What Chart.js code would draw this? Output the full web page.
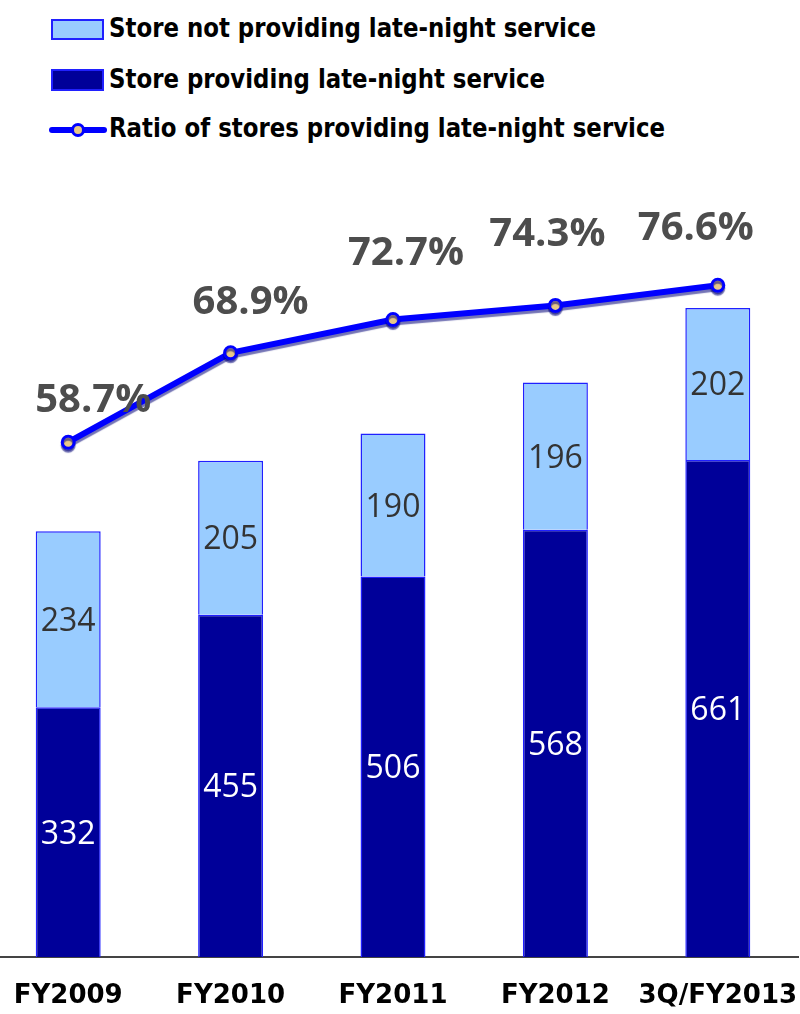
<!DOCTYPE html>
<html>
<head>
<meta charset="utf-8">
<script src="https://cdn.jsdelivr.net/npm/chart.js@4.4.0/dist/chart.umd.min.js"></script>
<style>
  html, body { margin: 0; padding: 0; background: #fff; }
  body { width: 800px; height: 1014px; position: relative; overflow: hidden; }
  #chart { position: absolute; left: -13px; top: 0; }
  .swatch { position: absolute; box-sizing: border-box; }
  .key-text {
    position: absolute; left: 109px; white-space: nowrap; line-height: 1;
    font: bold 27px "DejaVu Sans", sans-serif; color: #000; transform-origin: 0 50%;
  }
</style>
</head>
<body>
<div id="key"></div>
<canvas id="chart" width="812" height="1014"></canvas>
<script>
// Store counts per fiscal period
const categories = ['FY2009', 'FY2010', 'FY2011', 'FY2012', '3Q/FY2013'];
const lateNightStores = [332, 455, 506, 568, 661];
const otherStores = [234, 205, 190, 196, 202];
const lateNightRatio = [58.7, 68.9, 72.7, 74.3, 76.6];
const seriesNames = [
  'Store not providing late-night service',
  'Store providing late-night service',
  'Ratio of stores providing late-night service'
];

const COLORS = {
  light: '#99ccff',
  dark: '#000099',
  edge: '#2020ff',
  line: '#0000ff',
  dot: '#e8c887'
};

// ---- legend (HTML, stacked rows) ----
const key = document.getElementById('key');
function addText(txt, top) {
  const s = document.createElement('span');
  s.className = 'key-text';
  s.textContent = txt;
  s.style.top = top + 'px';
  key.appendChild(s);
  return s;
}
function addBox(top, h, bg) {
  const b = document.createElement('div');
  b.className = 'swatch';
  Object.assign(b.style, { left: '51px', top: top + 'px', width: '53px', height: h + 'px',
    background: bg, border: '2px solid ' + COLORS.edge });
  key.appendChild(b);
}
addBox(19, 21, COLORS.light);
addBox(69, 22, COLORS.dark);
// line sample with marker
const ls = document.createElement('div');
Object.assign(ls.style, { position: 'absolute', left: '49px', top: '127px', width: '58px', height: '6px',
  background: COLORS.line, borderRadius: '3px' });
key.appendChild(ls);
const lm = document.createElement('div');
Object.assign(lm.style, { position: 'absolute', left: '71px', top: '123px', width: '14px', height: '14px',
  boxSizing: 'border-box', borderRadius: '50%', background: COLORS.dot, border: '3px solid ' + COLORS.line });
key.appendChild(lm);

const t1 = addText(seriesNames[0], 12);
const t2 = addText(seriesNames[1], 63);
const t3 = addText(seriesNames[2], 112);
// condense the legend text horizontally
const squeeze = 487 / t1.getBoundingClientRect().width;
[t1, t2, t3].forEach(t => { t.style.transform = 'scaleX(' + squeeze + ')'; });

// ---- plugins ----
const lineShadow = {
  id: 'lineShadow',
  beforeDatasetDraw(chart, args) {
    if (args.meta.type !== 'line') return;
    const ctx = chart.ctx;
    ctx.save();
    ctx.shadowColor = 'rgba(0, 0, 120, 0.55)';
    ctx.shadowOffsetY = 3;
    ctx.shadowBlur = 1;
  },
  afterDatasetDraw(chart, args) {
    if (args.meta.type !== 'line') return;
    chart.ctx.restore();
  }
};

const valueLabels = {
  id: 'valueLabels',
  afterDatasetsDraw(chart, args, opts) {
    const ctx = chart.ctx;
    ctx.save();
    ctx.textAlign = 'center';
    ctx.textBaseline = 'alphabetic';
    chart.data.datasets.forEach((ds, i) => {
      const meta = chart.getDatasetMeta(i);
      meta.data.forEach((el, j) => {
        const v = ds.data[j];
        if (meta.type === 'bar') {
          const p = el.getProps(['x', 'y', 'base'], true);
          ctx.font = opts.barFont;
          ctx.fillStyle = ds.valueColor;
          ctx.fillText(String(v), p.x, (p.y + p.base) / 2 + opts.barCap / 2);
        } else {
          const s = opts.ratioShift[j];
          ctx.font = opts.ratioFont;
          ctx.fillStyle = opts.ratioColor;
          ctx.fillText(v.toFixed(1) + '%', el.x + s[0], el.y + s[1] + opts.ratioCap / 2);
        }
      });
    });
    ctx.restore();
  }
};

new Chart(document.getElementById('chart'), {
  data: {
    labels: categories,
    datasets: [
      {
        type: 'line', label: seriesNames[2], data: lateNightRatio, yAxisID: 'yRatio',
        borderColor: COLORS.line, borderWidth: 6, tension: 0,
        pointRadius: 6, pointBorderWidth: 3, pointBackgroundColor: COLORS.dot, pointBorderColor: COLORS.line,
        order: 0
      },
      {
        type: 'bar', label: seriesNames[1], data: lateNightStores, yAxisID: 'y', stack: 'stores',
        backgroundColor: COLORS.dark, borderColor: COLORS.edge, borderWidth: 1.5,
        valueColor: '#ffffff', order: 1
      },
      {
        type: 'bar', label: seriesNames[0], data: otherStores, yAxisID: 'y', stack: 'stores',
        backgroundColor: COLORS.light, borderColor: COLORS.edge, borderWidth: 1.5,
        valueColor: '#333333', order: 1
      }
    ]
  },
  options: {
    responsive: false,
    devicePixelRatio: 1,
    animation: false,
    layout: { autoPadding: false, padding: { top: 205, left: 0, right: 0, bottom: 2 } },
    datasets: { bar: { barPercentage: 0.8, categoryPercentage: 0.5 } },
    plugins: {
      legend: { display: false },
      tooltip: { enabled: false },
      valueLabels: {
        barFont: '32px "Open Sans"',
        barCap: 23,
        ratioFont: 'bold 40px "Open Sans"',
        ratioCap: 28,
        ratioColor: '#4d4d4d',
        ratioShift: [[25, -44], [20, -53], [13, -68], [-8, -73], [-22, -59]]
      }
    },
    scales: {
      x: {
        stacked: true,
        grid: { display: false, drawTicks: false },
        border: { display: true, color: '#444444', width: 2 },
        ticks: {
          padding: 24, color: '#000', autoSkip: false, maxRotation: 0, minRotation: 0,
          font: { family: 'DejaVu Sans', weight: 'bold', size: 26 }
        },
        // let the category band span the full canvas width
        afterFit(scale) {
          scale.paddingLeft = 0;
          scale.paddingRight = 0;
          scale.height = 55;
        }
      },
      y: { stacked: true, display: false, min: 0, max: 1000 },
      yRatio: { display: false, min: 0, max: 85.75, position: 'right' }
    }
  },
  plugins: [lineShadow, valueLabels]
});
</script>
</body>
</html>
